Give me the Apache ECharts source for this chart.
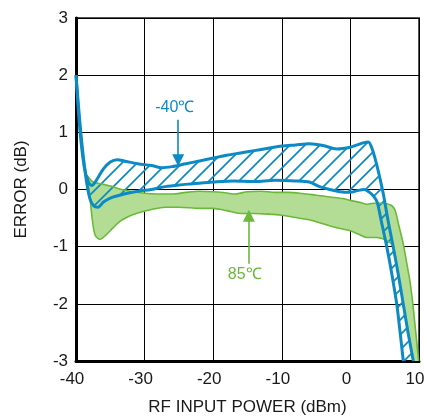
<!DOCTYPE html>
<html><head><meta charset="utf-8">
<script src="https://cdn.jsdelivr.net/npm/echarts@6/dist/echarts.min.js"></script>
<style>html,body{margin:0;padding:0;background:#fff}#c{width:425px;height:416px}</style>
</head><body><div id="c"></div>
<script>
// ---- data (x: RF input power dBm, y: error dB) ----
const xTicks = [-40, -30, -20, -10, 0, 10];
const yTicks = [-3, -2, -1, 0, 1, 2, 3];

const coldUpper = [[-40,2.0],[-39.4,1.0],[-38.8,0.4],[-38.2,0.13],[-37.7,0.07],[-37.2,0.13],[-36,0.36],[-35,0.48],[-34,0.52],[-33,0.5],[-31,0.45],[-29,0.42],[-27.5,0.38],[-26,0.4],[-24,0.45],[-22,0.5],[-20,0.55],[-18,0.6],[-16,0.64],[-14,0.68],[-12,0.72],[-10,0.76],[-8,0.78],[-6,0.8],[-4,0.77],[-2,0.71],[0,0.74],[1,0.78],[2,0.82],[2.6,0.83],[3.2,0.7],[3.8,0.45],[4.3,0.2],[4.8,-0.08],[5.5,-0.55],[6.25,-1.01],[7.0,-1.5],[7.7,-2.0],[8.4,-2.5],[9.17,-3.0]];
const coldLower = [[-40,2.0],[-39.3,1.0],[-38.6,0.25],[-38,-0.15],[-37.4,-0.29],[-36.8,-0.31],[-36,-0.22],[-35,-0.15],[-33,-0.08],[-31,-0.03],[-29,0.0],[-27,0.05],[-25,0.08],[-23,0.1],[-20,0.13],[-17,0.15],[-14,0.14],[-11,0.16],[-8,0.15],[-6,0.13],[-4.5,0.05],[-3,0.0],[-1.5,-0.04],[0,-0.05],[1,-0.02],[2,0.0],[2.8,-0.05],[3.4,-0.12],[3.9,-0.22],[4.5,-0.55],[5.3,-1.0],[6.0,-1.45],[6.75,-2.0],[7.2,-2.45],[7.71,-3.0]];
const hotUpper = [[-38.4,0.25],[-37.5,0.13],[-36,0.09],[-35,0.06],[-33,-0.01],[-31,-0.05],[-28,-0.08],[-26,-0.08],[-24,-0.05],[-22,-0.03],[-20,-0.04],[-18,-0.06],[-17,-0.08],[-15,-0.04],[-13,-0.03],[-11,-0.05],[-9,-0.05],[-7,-0.07],[-5,-0.1],[-3,-0.13],[-1,-0.16],[0,-0.19],[1.5,-0.23],[2.4,-0.26],[3.3,-0.24],[4.5,-0.24],[5.3,-0.25],[6.0,-0.28],[6.5,-0.36],[7.0,-0.6],[7.7,-0.95],[8.2,-1.28],[8.7,-1.62],[9.1,-2.0],[9.4,-2.35],[9.7,-2.7],[9.95,-3.0]];
const hotLower = [[-38.4,0.25],[-38.0,-0.1],[-37.6,-0.55],[-37.2,-0.8],[-36.5,-0.87],[-35.5,-0.78],[-34.6,-0.67],[-33.5,-0.55],[-32.5,-0.48],[-31,-0.41],[-29,-0.35],[-27,-0.31],[-25,-0.31],[-22,-0.33],[-20,-0.33],[-18,-0.37],[-16,-0.42],[-14,-0.42],[-12,-0.43],[-10,-0.45],[-8,-0.49],[-6,-0.53],[-4,-0.6],[-2,-0.67],[0,-0.72],[1.5,-0.8],[2.4,-0.84],[3.8,-0.84],[5.3,-0.89],[6.25,-1.0],[6.9,-1.45],[7.7,-2.0],[8.45,-2.5],[9.2,-3.0]];

const coldLabel = '-40\u2103';
const hotLabel = '85\u2103';
const coldArrow = [[-25.1,1.22],[-25.1,0.51]];
const hotArrow = [[-14.8,-1.30],[-14.8,-0.46]];
const coldLabelAt = [-25.6,1.44];
const hotLabelAt = [-15.4,-1.49];

// ---- styling ----
const BLUE = '#0b8ac6', GREEN = '#6ab93a', GREEN_FILL = '#b3dd95';
const FONT = '"Liberation Sans", Arial, sans-serif';
const TXT = '#1a1a1a';

function hatch() {
  const s = 15, c = document.createElement('canvas');
  c.width = s; c.height = s;
  const g = c.getContext('2d');
  g.strokeStyle = BLUE; g.lineWidth = 1.7;
  g.beginPath();
  g.moveTo(-1, s + 1); g.lineTo(s + 1, -1);
  g.moveTo(-2, 2); g.lineTo(2, -2);
  g.moveTo(s - 2, s + 2); g.lineTo(s + 2, s - 2);
  g.stroke();
  return c;
}
const hatchImg = hatch();

function band(upper, lower, fill) {
  return {
    type: 'custom', data: [[0, 0]], silent: true, z: 1,
    renderItem: function (params, api) {
      const pts = upper.map(p => api.coord(p)).concat(lower.slice().reverse().map(p => api.coord(p)));
      return { type: 'polygon', shape: { points: pts }, style: { fill: fill, stroke: null } };
    }
  };
}
function curve(d, color, w) {
  return { type: 'line', data: d, showSymbol: false, smooth: 0.3, z: 3,
    lineStyle: { color: color, width: w }, silent: true };
}
function arrow(pts, color, label, at) {
  return { type: 'line', data: [], z: 4, silent: true,
    markLine: { silent: true, symbol: ['none', 'triangle'], symbolSize: 12,
      lineStyle: { color: color, width: 1.6, type: 'solid' }, label: { show: false },
      data: [[{ coord: pts[0] }, { coord: pts[1] }]] },
    markPoint: { silent: true, symbol: 'circle', symbolSize: 0,
      label: { show: true, formatter: label, color: color, fontSize: 16, fontFamily: FONT, position: 'inside' },
      data: [{ coord: at }] } };
}

const chart = echarts.init(document.getElementById('c'), null, { renderer: 'canvas' });
chart.setOption({
  animation: false,
  backgroundColor: '#fff',
  grid: { left: 76, right: 6, top: 18, bottom: 55, containLabel: false, outerBoundsMode: 'none',
    show: true, borderColor: '#555', borderWidth: 2, backgroundColor: 'transparent' },
  xAxis: {
    type: 'value', min: xTicks[0], max: xTicks[xTicks.length - 1], interval: 10,
    name: 'RF INPUT POWER (dBm)', nameLocation: 'middle', nameGap: 38,
    nameTextStyle: { fontSize: 17, color: TXT, fontFamily: FONT },
    axisLine: { show: true, onZero: false, lineStyle: { color: '#000', width: 3 } },
    axisTick: { show: false },
    axisLabel: { fontSize: 17, color: TXT, fontFamily: FONT, margin: 10, padding: [0, 8, 0, 0] },
    splitLine: { show: true, lineStyle: { color: '#000', width: 1 } }
  },
  yAxis: {
    type: 'value', min: yTicks[0], max: yTicks[yTicks.length - 1], interval: 1,
    name: 'ERROR (dB)', nameLocation: 'middle', nameGap: 46,
    nameTextStyle: { fontSize: 17, color: TXT, fontFamily: FONT },
    axisLine: { show: true, onZero: false, lineStyle: { color: '#000', width: 3 } },
    axisTick: { show: false },
    axisLabel: { fontSize: 17, color: TXT, fontFamily: FONT, margin: 8 },
    splitLine: { show: true, lineStyle: { color: '#000', width: 1 } }
  },
  series: [
    band(hotUpper, hotLower, GREEN_FILL),
    band(coldUpper, coldLower, { image: hatchImg, repeat: 'repeat' }),
    curve(hotUpper, GREEN, 1.6),
    curve(hotLower, GREEN, 1.6),
    curve(coldUpper, BLUE, 3),
    curve(coldLower, BLUE, 3),
    arrow(coldArrow, BLUE, coldLabel, coldLabelAt),
    arrow(hotArrow, GREEN, hotLabel, hotLabelAt)
  ]
});
</script></body></html>
